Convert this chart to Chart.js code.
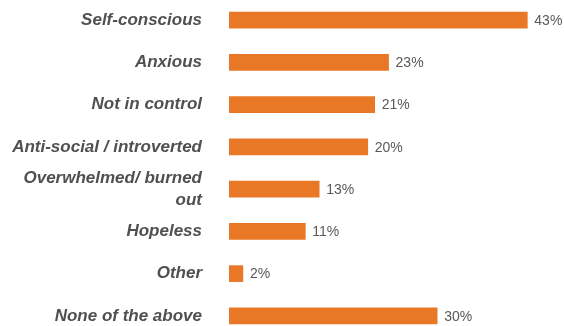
<!DOCTYPE html>
<html>
<head>
<meta charset="utf-8">
<script src="https://cdn.jsdelivr.net/npm/chart.js@4.4.0/dist/chart.umd.min.js"></script>
<style>
    html, body { margin: 0; padding: 0; background: #fff; overflow: hidden; }
    #wrap { position: absolute; left: 0; top: -1px; width: 564px; height: 338px; }
</style>
</head>
<body>
<div id="wrap"><canvas id="chart" width="564" height="338"></canvas></div>
<script>
let categories = [
    "Self-conscious",
    "Anxious",
    "Not in control",
    "Anti-social / introverted",
    ["Overwhelmed/ burned", "out"],
    "Hopeless",
    "Other",
    "None of the above"
];
let values = [43, 23, 21, 20, 13, 11, 2, 30];

let orange = "#e87826";
let labelGrey = "#505050";
let valueGrey = "#595959";

// draws "43%" etc just past the end of each bar
let valueLabels = {
    id: "valueLabels",
    afterDatasetsDraw(chart) {
        let ctx = chart.ctx;
        let meta = chart.getDatasetMeta(0);
        ctx.save();
        ctx.font = "14px 'Liberation Sans', Arial, sans-serif";
        ctx.fillStyle = valueGrey;
        ctx.textAlign = "left";
        ctx.textBaseline = "middle";
        meta.data.forEach((bar, i) => {
            ctx.fillText(values[i] + "%", bar.x + 7, bar.y + 1);
        });
        ctx.restore();
    }
};

new Chart("chart", {
    type: "bar",
    data: {
        labels: categories,
        datasets: [{
            data: values,
            backgroundColor: orange,
            borderWidth: 0,
            barThickness: 16
        }]
    },
    options: {
        indexAxis: "y",
        responsive: false,
        animation: false,
        devicePixelRatio: 1,
        layout: {padding: {left: 0, right: 2, top: 0, bottom: 0}},
        plugins: {
            legend: {display: false},
            tooltip: {enabled: false}
        },
        scales: {
            x: {
                display: false,
                min: 0,
                max: 48
            },
            y: {
                grid: {display: false, drawTicks: false},
                border: {display: false},
                afterFit(scale) {
                    scale.width = 229;
                    scale.paddingTop = 0;
                    scale.paddingBottom = 0;
                },
                ticks: {
                    autoSkip: false,
                    padding: 27,
                    color: labelGrey,
                    font: {
                        family: "'Liberation Sans', Arial, sans-serif",
                        size: 17,
                        style: "italic",
                        weight: "bold",
                        lineHeight: 1.3
                    }
                }
            }
        }
    },
    plugins: [valueLabels]
});
</script>
</body>
</html>
